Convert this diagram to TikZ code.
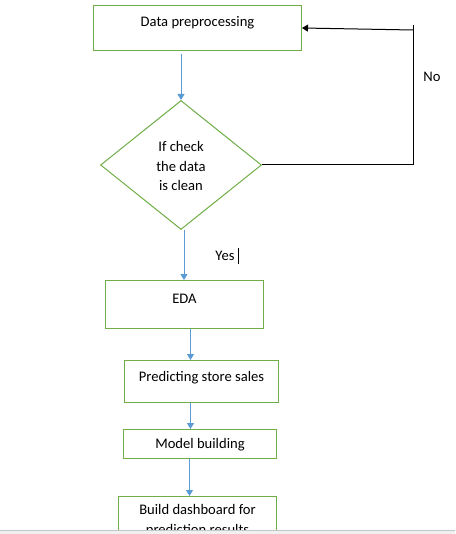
\documentclass[tikz,border=0pt]{standalone}
\usepackage{fontspec}
\setmainfont{Carlito}
\usetikzlibrary{shapes.geometric}
\usetikzlibrary{arrows.meta}
\definecolor{boxgreen}{HTML}{70AD47}
\definecolor{arrblue}{HTML}{5B9BD5}
\tikzset{
	flownode/.style = {align=center, inner sep=0pt, text centered,
		font=\fontsize{14.6}{19.5}\selectfont},
	fc_box/.style = {flownode, rectangle, draw=boxgreen, anchor=north west},% process step
	fc_dec/.style = {flownode, diamond, draw=boxgreen,
		minimum width=161pt, minimum height=129pt},% decision
	fc_arr/.style = {draw=arrblue, -{Triangle[length=6pt,width=7pt]}},% blue flow arrow
	fc_back/.style = {draw=black, -{Triangle[length=6pt,width=7pt]}}% loop back
}

\begin{document}
\begin{tikzpicture}[x=1pt,y=-1pt,line width=1pt]
		\useasboundingbox (0,0) rectangle (455,534);
		\node [fc_box, minimum width=208pt, text height=21pt, text depth=24pt]
			(prep) at (93,5) {Data preprocessing};
		\node [fc_dec, text height=52pt, text depth=0pt]
			(dec) at (181,165) {If check\\the data\\is clean};
		\node [fc_box, minimum width=158pt, text height=23pt, text depth=25pt]
			(eda) at (105,280) {EDA};
		\node [fc_box, minimum width=154pt, text height=21pt, text depth=21pt]
			(pred) at (124,360) {Predicting store sales};
		\node [fc_box, minimum width=153pt, text height=19pt, text depth=10pt]
			(model) at (123,429) {Model building};
		\node [fc_box, minimum width=158pt, text height=37.5pt, text depth=20pt]
			(dash) at (118,496) {Build dashboard for\\prediction results};
		\node [flownode] (no) at (432,77) {No};
		\node [flownode] (yes) at (225,256) {Yes};
		\coordinate (ntop) at (413,25);
		\coordinate (nfrom) at (413,30);
		% flow
		\draw [fc_arr, shorten <=3pt] (prep.south -| dec.north) -- (dec.north);
		\draw [fc_arr] ([xshift=3pt]dec.south) -- ([xshift=3pt]dec.south |- eda.north);
		\draw [fc_arr] ([xshift=6pt]eda.south) -- ([xshift=6pt]eda.south |- pred.north);
		\draw [fc_arr] ([xshift=-11pt]pred.south) -- ([xshift=-11pt]pred.south |- model.north);
		\draw [fc_arr] ([xshift=-10.5pt]model.south) -- ([xshift=-10.5pt]model.south |- dash.north);
		% no branch
		\draw (dec.east) -| (ntop);
		\draw [fc_back] (nfrom) -- (prep.east);
		\draw (238,248) -- (238,264);
		% window edge
		\fill [black!6] (0,530) rectangle (455,534);
		\draw [black!22] (0,530) -- (455,530);
\end{tikzpicture}
\end{document}
